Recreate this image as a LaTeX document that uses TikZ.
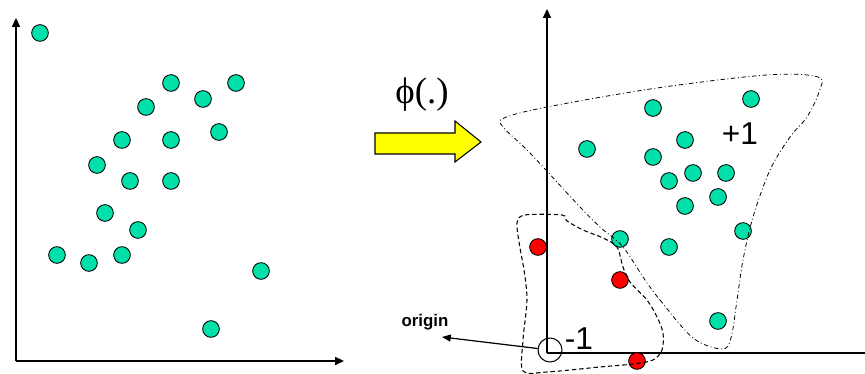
\documentclass[tikz,border=0pt]{standalone}
\usepackage{fontspec}
\setmainfont{Liberation Sans}
\newfontfamily\phifont{Liberation Serif}
\usetikzlibrary{arrows.meta}
\definecolor{dotgreen}{RGB}{0,224,168}
\definecolor{dotred}{RGB}{255,0,0}
\definecolor{arrowyellow}{RGB}{255,255,0}
\begin{document}
\begin{tikzpicture}[x=0.02cm,y=-0.02cm,
  dotg/.style={circle,draw=black,line width=0.5pt,fill=dotgreen,minimum size=0.334cm,inner sep=0pt},
  dotr/.style={dotg,fill=dotred},
  axisline/.style={line width=0.9pt},
  axisarrow/.style={axisline,-{Triangle[length=5pt,width=4.5pt]}},
  dashdotline/.style={line width=0.45pt,dash pattern=on 2.5pt off 1.5pt on 0.5pt off 1.5pt},
  dashline/.style={line width=0.6pt,dash pattern=on 2.5pt off 1.6pt},
  bignum/.style={inner sep=0pt,font=\fontsize{18}{20}\selectfont},
]
\useasboundingbox (0,0) rectangle (865,374);
% left axes
\coordinate (lo) at (16,361);
\coordinate (ly) at (16,18);
\coordinate (lx) at (344,361);
\draw[axisarrow] (lo) -- (ly);
\draw[axisarrow] (lo) -- (lx);
% right axes
\coordinate (ro) at (547,353);
\coordinate (ry) at (547,9);
\coordinate (rx) at (865,353);
\draw[axisarrow] (ro) -- (ry);
\draw[axisline] (ro) -- (rx);
% left dots
\foreach \x/\y [count=\i] in {40/33,171/83,236/83,203/99,146/107,122/140,171/140,219/132,97/165,130/181,171/181,105/213,138/230,57/255,89/263,122/255,261/271,211/329}
  \node[dotg] (l\i) at (\x,\y) {};
% right green dots
\foreach \x/\y [count=\i] in {653/108,751/99,587/149,685/140,653/157,693/173,726/173,669/181,718/197,685/206,743/231,620/239,669/247,718/321}
  \node[dotg] (g\i) at (\x,\y) {};
% red dots
\foreach \x/\y [count=\i] in {538/247,620/280,637/361}
  \node[dotr] (r\i) at (\x,\y) {};
% +1 region
\draw[dashdotline] plot[smooth cycle,tension=0.55] coordinates {
  (645,280) (660,300) (693,338) (722,349) (731,338) (737,300) (743,260) (753,217) (770,170) (790,137) (807,117) (819,92) (818,77) (767,75) (657,88) (547,107) (504,118) (503,127) (530,153) (580,207) (600,227) (623,247)};
% -1 region
\draw[dashline] plot[smooth cycle,tension=0.5] coordinates {
  (517,223) (525,215) (562,215) (567,221) (583,230) (603,238) (617,247) (623,267) (630,282) (647,300) (657,317) (663,333) (662,350) (653,360) (633,364) (600,367) (547,372) (523,371) (523,340) (527,300) (524,270) (520,248)};
% origin
\node[circle,draw=black,line width=0.6pt,minimum size=0.48cm,inner sep=0pt] (oc) at (550,350) {};
\coordinate (otip) at (442,337);
\draw[line width=0.7pt,-{Triangle[length=5pt,width=4pt]}] (oc) -- (otip);
\node[inner sep=0pt,font=\bfseries\fontsize{9.6}{11}\selectfont] (olab) at (425,322) {origin};
\node[bignum] (m1) at (579,339) {-1};
\node[bignum] (p1) at (740,134) {+1};
% mapping arrow
\draw[line width=0.6pt,fill=arrowyellow] (375,133) -- (455,133) -- (455,121) -- (481,142) -- (455,162) -- (455,154) -- (375,154) -- cycle;
\node[inner sep=0pt,font=\phifont\fontsize{21}{24}\selectfont] (phi) at (422,95) {ϕ(.)};
\end{tikzpicture}
\end{document}
